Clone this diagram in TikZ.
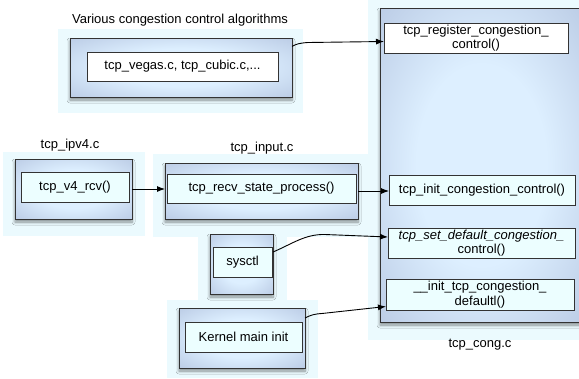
\documentclass[tikz,border=0pt]{standalone}
\usepackage{fontspec}
\setmainfont{Liberation Sans}
\usetikzlibrary{arrows.meta,shadows.blur,calc}

\definecolor{halo}{HTML}{EBFAFE}
\definecolor{boxmid}{HTML}{DDEFFF}
\definecolor{boxedge}{HTML}{A3B3D3}
\definecolor{cellfill}{HTML}{ECFEFF}
\definecolor{edge}{HTML}{333333}

% soft glow from the centre of a module box to its rim
\pgfdeclareradialshading{boxglow}{\pgfpoint{0bp}{0bp}}{%
  color(0bp)=(boxmid); color(16bp)=(boxmid); color(50bp)=(boxedge)}

\begin{document}
\begin{tikzpicture}[x=1pt, y=-1pt,
  font=\fontsize{13}{14.5}\selectfont,
  module/.style={draw=edge, line width=0.8pt, shading=boxglow,
    inner sep=0pt, outer sep=0pt,
    blur shadow={shadow xshift=0pt, shadow yshift=-3pt,
      shadow blur steps=6, shadow blur radius=3pt, shadow opacity=45}},
  cell/.style={draw=edge, line width=0.8pt, fill=cellfill,
    inner sep=0pt, outer sep=0pt, align=center},
  blankcell/.style={cell, fill=white},
  caption/.style={inner sep=0pt},
  conn/.style={draw=black, line width=0.9pt, -{Latex[length=8pt,width=6pt]}}]

\useasboundingbox (0,0) rectangle (579,378);

% light halos behind each module
\fill[halo] (58,29) rectangle (303,113);
\fill[halo] (368,0) rectangle (579,340);
\fill[halo] (3,152) rectangle (145,236);
\fill[halo] (153,154) rectangle (370,237);
\fill[halo] (198,230) rectangle (287,300);
\fill[halo] (167,300) rectangle (318,378);

% captions
\node[caption] (algcap) at (180,20) {Various congestion control algorithms};
\node[caption] (ipv4cap) at (70,145) {tcp\_ipv4.c};
\node[caption] (inputcap) at (262,148) {tcp\_input.c};
\node[caption] (congcap) at (480,345) {tcp\_cong.c};

% module boxes
\node[module, minimum width=222pt, minimum height=59pt] (algbox) at (181,67.5) {};
\node[module, minimum width=203pt, minimum height=314pt] (congbox) at (481.5,165) {};
\node[module, minimum width=117pt, minimum height=60pt] (ipv4box) at (73.5,189) {};
\node[module, minimum width=193pt, minimum height=56pt] (inputbox) at (261.5,191) {};
\node[module, minimum width=63pt, minimum height=60pt] (sysbox) at (241.5,264) {};
\node[module, minimum width=126pt, minimum height=60pt] (kernbox) at (242,338) {};

% functions inside the modules
\node[blankcell, minimum width=191pt, minimum height=29pt] (vegas) at (182.5,66.5)
  {tcp\_vegas.c, tcp\_cubic.c,...};
\node[blankcell, minimum width=184pt, minimum height=30pt] (register) at (476,38)
  {tcp\_register\_congestion\_\\control()};
\node[cell, minimum width=186pt, minimum height=30pt] (initcc) at (482,190)
  {tcp\_init\_congestion\_control()};
\node[cell, minimum width=187pt, minimum height=30pt] (setdef) at (481.5,243)
  {\itshape tcp\_set\_default\_congestion\_\\control()};
\node[cell, minimum width=188pt, minimum height=31pt] (initdef) at (480,294.5)
  {\_\_init\_tcp\_congestion\_\\defaultl()};
\node[cell, minimum width=108pt, minimum height=30pt] (v4rcv) at (75,187)
  {tcp\_v4\_rcv()};
\node[cell, minimum width=189pt, minimum height=29pt] (recv) at (261.5,188.5)
  {tcp\_recv\_state\_process()};
\node[cell, minimum width=59pt, minimum height=30pt] (sysctl) at (242.5,262)
  {sysctl};
\node[cell, minimum width=117pt, minimum height=30pt] (kernel) at (243.5,337)
  {Kernel main init};

% calls between modules
\draw[conn] ([yshift=-8.5pt]algbox.north east)
  .. controls (296,44) and (300,43) .. (308,42.5) -- ([yshift=-3.5pt]register.west);
\draw[conn] (ipv4box.east) -- (inputbox.west |- ipv4box.east);
\draw[conn] (inputbox.east) -- (initcc.west |- inputbox.east);
\draw[conn] ([yshift=-18pt]sysbox.north east)
  .. controls (292,244) and (305,234) .. (325,234.5) -- ([yshift=6pt]setdef.west);
\draw[conn] ([yshift=-10pt]kernbox.north east)
  .. controls (311,315) and (314,314) .. (322,313.5) -- ([yshift=-12pt]initdef.west);

\end{tikzpicture}
\end{document}
